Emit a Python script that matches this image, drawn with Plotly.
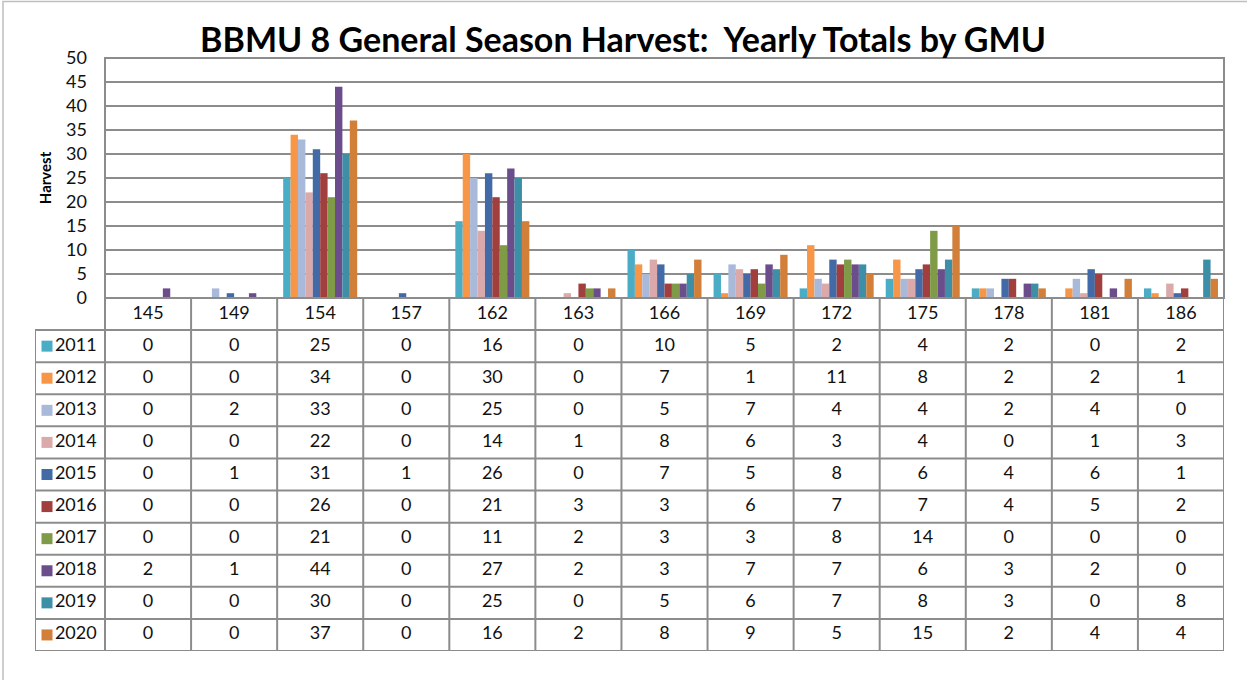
import plotly.graph_objects as go

# GMU categories and yearly harvest per GMU
gmus = ["145", "149", "154", "157", "162", "163", "166", "169", "172", "175", "178", "181", "186"]
years = ["2011", "2012", "2013", "2014", "2015", "2016", "2017", "2018", "2019", "2020"]

h2011 = [0, 0, 25, 0, 16, 0, 10, 5, 2, 4, 2, 0, 2]
h2012 = [0, 0, 34, 0, 30, 0, 7, 1, 11, 8, 2, 2, 1]
h2013 = [0, 2, 33, 0, 25, 0, 5, 7, 4, 4, 2, 4, 0]
h2014 = [0, 0, 22, 0, 14, 1, 8, 6, 3, 4, 0, 1, 3]
h2015 = [0, 1, 31, 1, 26, 0, 7, 5, 8, 6, 4, 6, 1]
h2016 = [0, 0, 26, 0, 21, 3, 3, 6, 7, 7, 4, 5, 2]
h2017 = [0, 0, 21, 0, 11, 2, 3, 3, 8, 14, 0, 0, 0]
h2018 = [2, 1, 44, 0, 27, 2, 3, 7, 7, 6, 3, 2, 0]
h2019 = [0, 0, 30, 0, 25, 0, 5, 6, 7, 8, 3, 0, 8]
h2020 = [0, 0, 37, 0, 16, 2, 8, 9, 5, 15, 2, 4, 4]

series = [h2011, h2012, h2013, h2014, h2015, h2016, h2017, h2018, h2019, h2020]
colors = ["#4BACC6", "#F79646", "#A9B9DA", "#DBA9A9", "#416AA6",
          "#A03F3D", "#7F9B48", "#6B4D8C", "#3C8FA6", "#D27F3A"]

W, H = 1247, 680
FONT = "Lato, Open Sans, sans-serif"
GRID = "#8C8C8C"
TXT = dict(family=FONT, size=18, color="#111")

# pixel layout helpers (paper coords)
def px(x):
    return x / W

def py(y):
    return 1 - y / H

plot_l, plot_r, plot_t, plot_b = 105, 1224, 58, 298
tab_l, tab_b = 35, 651
ncat = len(gmus)
cat_w = (plot_r - plot_l) / ncat
leg_w = (plot_l - tab_l) / cat_w  # legend column width in category units
x_left = -0.5 - leg_w

fig = go.Figure()

for yr, vals, col in zip(years, series, colors):
    fig.add_trace(go.Bar(x=gmus, y=vals, name=yr, marker=dict(color=col, line=dict(width=0)),
                         showlegend=False, xaxis="x", yaxis="y"))

# data table: header row with GMUs, then one row per year
fig.add_trace(go.Scatter(x=list(range(ncat)), y=[0] * ncat, text=gmus, mode="text",
                         textfont=TXT, xaxis="x2", yaxis="y2", showlegend=False,
                         hoverinfo="skip"))
for i, (yr, vals, col) in enumerate(zip(years, series, colors)):
    row = i + 1
    fig.add_trace(go.Scatter(x=list(range(ncat)), y=[row] * ncat, text=[str(v) for v in vals],
                             mode="text", textfont=TXT, xaxis="x2", yaxis="y2",
                             showlegend=False, hoverinfo="skip"))
    # legend key + year label
    fig.add_trace(go.Scatter(x=[x_left + 12 / cat_w], y=[row], mode="markers+text",
                             marker=dict(symbol="square", size=11, color=col),
                             text=[yr], textposition="middle right", textfont=TXT,
                             xaxis="x2", yaxis="y2", showlegend=False, hoverinfo="skip"))

shapes = []
line = dict(color=GRID, width=2)
# vertical cell borders
for k in range(ncat + 1):
    shapes.append(dict(type="line", xref="x2", yref="y2", x0=k - 0.5, x1=k - 0.5,
                       y0=-0.5, y1=len(years) + 0.5, line=line))
shapes.append(dict(type="line", xref="x2", yref="y2", x0=x_left, x1=x_left,
                   y0=0.5, y1=len(years) + 0.5, line=line))
# horizontal cell borders
shapes.append(dict(type="line", xref="x2", yref="y2", x0=-0.5, x1=ncat - 0.5,
                   y0=-0.5, y1=-0.5, line=line))
for r in range(len(years) + 1):
    shapes.append(dict(type="line", xref="x2", yref="y2", x0=x_left, x1=ncat - 0.5,
                       y0=r + 0.5, y1=r + 0.5, line=line))
# plot area box
shapes.append(dict(type="rect", xref="paper", yref="paper", x0=px(plot_l), x1=px(plot_r),
                   y0=py(plot_b), y1=py(plot_t), line=line))
# outer chart border
shapes.append(dict(type="rect", xref="paper", yref="paper", x0=px(3), x1=px(1260),
                   y0=py(700), y1=py(1.5), line=dict(color="#BFBFBF", width=1.5)))

fig.update_layout(
    width=W, height=H,
    margin=dict(l=0, r=0, t=0, b=0, pad=0, autoexpand=False),
    paper_bgcolor="white", plot_bgcolor="white",
    barmode="group", bargap=0.14, bargroupgap=0,
    title=dict(text="<b>BBMU 8 General Season Harvest:  Yearly Totals by GMU</b>",
               x=px(623), xanchor="center", y=py(40), yanchor="middle",
               font=dict(family=FONT, size=34, color="#000")),
    xaxis=dict(domain=[px(plot_l), px(plot_r)], type="category", showticklabels=False,
               showgrid=False, zeroline=False, fixedrange=True, automargin=False),
    yaxis=dict(domain=[py(plot_b), py(plot_t)], range=[0, 50], dtick=5, showgrid=True,
               gridcolor=GRID, gridwidth=2, zeroline=False, ticks="", automargin=False,
               tickfont=TXT, fixedrange=True, ticklabelstandoff=17,
               title=dict(text="<b>Harvest</b>", font=dict(family=FONT, size=15, color="#000"),
                          standoff=10)),
    xaxis2=dict(domain=[px(tab_l), px(plot_r)], range=[x_left, ncat - 0.5], visible=False,
                anchor="y2", automargin=False, fixedrange=True),
    yaxis2=dict(domain=[py(tab_b), py(plot_b)], range=[len(years) + 0.5, -0.5], visible=False,
                anchor="x2", automargin=False, fixedrange=True),
    shapes=shapes,
)

# drop the default page margin so the figure sits at the window origin
fig.write_html("out.html", config={"displayModeBar": False},
               post_script="document.body.style.margin='0';document.body.style.overflow='hidden';")
